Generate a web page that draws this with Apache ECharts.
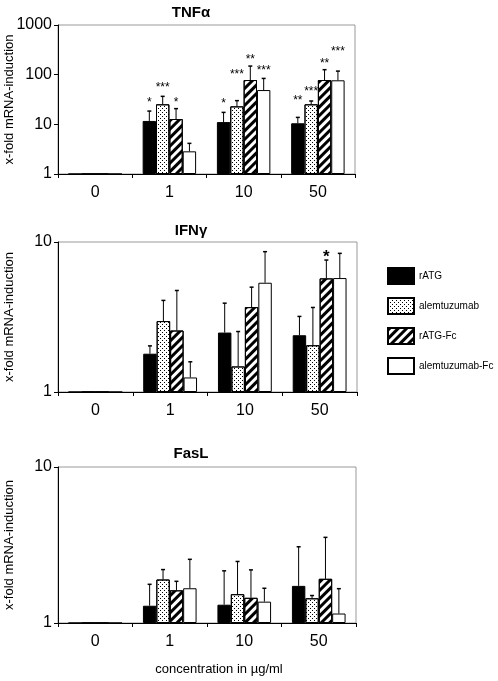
<!DOCTYPE html>
<html>
<head>
<meta charset="utf-8">
<script src="https://cdn.jsdelivr.net/npm/echarts@6/dist/echarts.min.js"></script>
<style>
html,body{margin:0;padding:0;background:#fff;}
#chart{width:498px;height:681px;}
</style>
</head>
<body>
<div id="chart"></div>
<script>
// ---- data ----
const categories = ['0', '1', '10', '50'];
const seriesNames = ['rATG', 'alemtuzumab', 'rATG-Fc', 'alemtuzumab-Fc'];
const panelTitles = ['TNFα', 'IFNγ', 'FasL'];
const yMax = [1000, 10, 10];

// TNFα
const tnfRATG = [1, 11.7, 11.1, 10.5];
const tnfAlem = [1, 25.3, 23, 25.3];
const tnfRATGFc = [1, 12.8, 78, 78];
const tnfAlemFc = [1, 2.86, 49, 77];
const tnfRATGErr = [null, 18.5, 17.4, 13.8];
const tnfAlemErr = [null, 36.6, 30, 29.5];
const tnfRATGFcErr = [null, 20.7, 149, 126];
const tnfAlemFcErr = [null, 4.14, 84, 118];
const tnfRATGSig = ['', '*', '*', '**'];
const tnfAlemSig = ['', '***', '***', '***'];
const tnfRATGFcSig = ['', '*', '**', '**'];
const tnfAlemFcSig = ['', '', '***', '***'];
const tnfRATGSigLevel = [null, 33, 31, 36];
const tnfAlemSigLevel = [null, 67, 120, 56];
const tnfRATGFcSigLevel = [null, 33, 249, 204];
const tnfAlemFcSigLevel = [null, null, 145, 350];

// IFNγ
const ifnRATG = [1, 1.80, 2.49, 2.39];
const ifnAlem = [1, 2.97, 1.48, 2.05];
const ifnRATGFc = [1, 2.57, 3.68, 5.72];
const ifnAlemFc = [1, 1.25, 5.35, 5.75];
const ifnRATGErr = [null, 2.03, 3.91, 3.19];
const ifnAlemErr = [null, 4.08, 2.53, 3.66];
const ifnRATGFcErr = [null, 4.75, 5.0, 7.58];
const ifnAlemFcErr = [null, 1.59, 8.62, 8.4];
const ifnRATGSig = ['', '', '', ''];
const ifnAlemSig = ['', '', '', ''];
const ifnRATGFcSig = ['', '', '', '*'];
const ifnAlemFcSig = ['', '', '', ''];
const ifnRATGSigLevel = [null, null, null, null];
const ifnAlemSigLevel = [null, null, null, null];
const ifnRATGFcSigLevel = [null, null, null, 8.66];
const ifnAlemFcSigLevel = [null, null, null, null];

// FasL
const faslRATG = [1, 1.29, 1.31, 1.73];
const faslAlem = [1, 1.90, 1.53, 1.44];
const faslRATGFc = [1, 1.62, 1.45, 1.92];
const faslAlemFc = [1, 1.67, 1.37, 1.15];
const faslRATGErr = [null, 1.77, 2.16, 3.08];
const faslAlemErr = [null, 2.20, 2.48, 1.50];
const faslRATGFcErr = [null, 1.85, 2.19, 3.54];
const faslAlemFcErr = [null, 2.56, 1.67, 1.66];

const panels = [
  { values: [tnfRATG, tnfAlem, tnfRATGFc, tnfAlemFc],
    errs: [tnfRATGErr, tnfAlemErr, tnfRATGFcErr, tnfAlemFcErr],
    sigs: [tnfRATGSig, tnfAlemSig, tnfRATGFcSig, tnfAlemFcSig],
    sigLevels: [tnfRATGSigLevel, tnfAlemSigLevel, tnfRATGFcSigLevel, tnfAlemFcSigLevel],
    sigFont: 12 },
  { values: [ifnRATG, ifnAlem, ifnRATGFc, ifnAlemFc],
    errs: [ifnRATGErr, ifnAlemErr, ifnRATGFcErr, ifnAlemFcErr],
    sigs: [ifnRATGSig, ifnAlemSig, ifnRATGFcSig, ifnAlemFcSig],
    sigLevels: [ifnRATGSigLevel, ifnAlemSigLevel, ifnRATGFcSigLevel, ifnAlemFcSigLevel],
    sigFont: 17 },
  { values: [faslRATG, faslAlem, faslRATGFc, faslAlemFc],
    errs: [faslRATGErr, faslAlemErr, faslRATGFcErr, faslAlemFcErr],
    sigs: null, sigLevels: null, sigFont: 12 }
];

// ---- styles ----
const FONT = '"Liberation Sans", Arial, sans-serif';
const BAR_GAP_CAT = 0.28;
const gridBoxes = [
  { left: 58, top: 25, width: 297, height: 149 },
  { left: 58, top: 242, width: 299, height: 150 },
  { left: 58, top: 467, width: 298, height: 156 }
];
const titleTops = [0, 218, 441];
const barStyles = [
  { color: '#000', borderColor: '#000', borderWidth: 1 },
  { color: '#fff', borderColor: '#000', borderWidth: 1,
    decal: { symbol: 'rect', symbolSize: 1, color: '#000',
             dashArrayX: [[1, 3], [0, 2, 1, 1]], dashArrayY: [1, 1] } },
  { color: '#fff', borderColor: '#000', borderWidth: 1,
    decal: { symbol: 'rect', symbolSize: 1, color: '#000',
             dashArrayX: [1, 0], dashArrayY: [2.5, 2.5], rotation: -Math.PI / 4 } },
  { color: '#fff', borderColor: '#000', borderWidth: 1 }
];

const grids = [], xAxes = [], yAxes = [], series = [], titles = [];
panels.forEach((p, gi) => {
  grids.push(Object.assign({ show: true, borderColor: '#999', borderWidth: 1, backgroundColor: 'transparent',
    containLabel: false, outerBoundsMode: 'none' }, gridBoxes[gi]));
  titles.push({ text: panelTitles[gi], left: 186, top: titleTops[gi], textAlign: 'center',
    textStyle: { fontFamily: FONT, fontSize: 15, fontWeight: 'bold', color: '#000' } });
  xAxes.push({
    type: 'category', gridIndex: gi, data: categories, boundaryGap: true,
    axisLine: { lineStyle: { color: '#000', width: 1 } },
    axisTick: { show: true, length: 4, lineStyle: { color: '#000' } },
    axisLabel: { color: '#000', fontFamily: FONT, fontSize: 16, margin: 11 },
    name: gi === 2 ? 'concentration in µg/ml' : '',
    nameLocation: 'middle', nameGap: 40, nameMoveOverlap: false,
    nameTextStyle: { color: '#000', fontFamily: FONT, fontSize: 13, padding: [0, 0, 0, 24] }
  });
  yAxes.push({
    type: 'log', logBase: 10, gridIndex: gi, min: 1, max: yMax[gi],
    axisLine: { show: true, lineStyle: { color: '#000', width: 1 } },
    axisTick: { show: true, length: 4, lineStyle: { color: '#000' } },
    splitLine: { show: false },
    axisLabel: { color: '#000', fontFamily: FONT, fontSize: 16, margin: 6,
      formatter: v => String(Math.round(v)) },
    name: 'x-fold mRNA-induction', nameLocation: 'middle', nameGap: 42, nameMoveOverlap: false,
    nameTextStyle: { color: '#000', fontFamily: FONT, fontSize: 13 }
  });
  p.values.forEach((vals, si) => {
    series.push({
      type: 'bar', name: seriesNames[si], xAxisIndex: gi, yAxisIndex: gi,
      data: vals, barGap: 0, barCategoryGap: (BAR_GAP_CAT * 100) + '%',
      itemStyle: barStyles[si], silent: true, animation: false
    });
  });
  // error bars and significance marks
  const items = [], sigText = [];
  p.values.forEach((vals, si) => {
    vals.forEach((v, ci) => {
      const e = p.errs[si][ci];
      if (e == null) return;
      const lvl = p.sigLevels ? p.sigLevels[si][ci] : null;
      items.push([ci, si, v, e, lvl == null ? e : lvl]);
      sigText.push(p.sigs ? p.sigs[si][ci] : '');
    });
  });
  series.push({
    type: 'custom', xAxisIndex: gi, yAxisIndex: gi, data: items, silent: true, animation: false,
    encode: { x: 0, y: 3 }, z: 5,
    renderItem: (params, api) => {
      const ci = api.value(0), si = api.value(1);
      const band = api.size([1, 1])[0];
      const bw = band * (1 - BAR_GAP_CAT) / 4;
      const cx = api.coord([ci, 1])[0] + (si - 1.5) * bw;
      const yTop = api.coord([ci, api.value(2)])[1];
      const yErr = api.coord([ci, api.value(3)])[1];
      const children = [
        { type: 'line', shape: { x1: cx, y1: yTop, x2: cx, y2: yErr }, style: { stroke: '#000', lineWidth: 1 } },
        { type: 'line', shape: { x1: cx - 2, y1: yErr, x2: cx + 2, y2: yErr }, style: { stroke: '#000', lineWidth: 1.5 } }
      ];
      const s = sigText[params.dataIndex];
      if (s) {
        const ys = api.coord([ci, api.value(4)])[1];
        children.push({ type: 'text', style: { text: s, x: cx, y: ys + p.sigFont * 0.35,
          align: 'center', verticalAlign: 'middle', fill: '#000',
          font: (p.sigFont > 14 ? 'bold ' : '') + p.sigFont + 'px ' + FONT } });
      }
      return { type: 'group', children };
    }
  });
});

const chart = echarts.init(document.getElementById('chart'), null, { renderer: 'canvas' });
chart.setOption({
  animation: false,
  backgroundColor: '#fff',
  title: titles,
  grid: grids,
  xAxis: xAxes,
  yAxis: yAxes,
  series: series,
  legend: {
    data: seriesNames, orient: 'vertical', left: 382, top: 262,
    itemWidth: 26, itemHeight: 16, itemGap: 12, icon: 'rect',
    selectedMode: false,
    textStyle: { fontFamily: FONT, fontSize: 10, color: '#000', padding: [0, 0, 6, 0] }
  }
});
</script>
</body>
</html>
